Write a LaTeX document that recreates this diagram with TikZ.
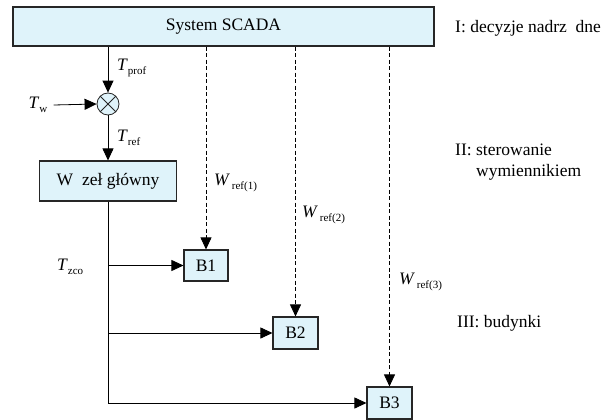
\documentclass[tikz,border=0pt]{standalone}
\usepackage{fontspec}
\setmainfont{Liberation Serif}
\usetikzlibrary{arrows.meta}
\definecolor{jasnoniebieski}{HTML}{DFF3FA}
\newcommand{\zmienna}[2]{\textit{#1}\raisebox{-0.45ex}{\fontsize{11}{12}\selectfont #2}}

\begin{document}
\begin{tikzpicture}[x=1pt,y=-1pt,
  font=\fontsize{17.5}{21}\selectfont,
  blok/.style={draw=black!85,line width=1.1pt,fill=jasnoniebieski,inner sep=0pt},
  strzalka/.style={line width=0.8pt,-{Triangle[length=12pt,width=11pt]}},
  przerywana/.style={strzalka,dash pattern=on 4pt off 2.5pt},
  opis/.style={anchor=west,inner sep=0pt}]
  \useasboundingbox (0,0) rectangle (613,420);
  % bloki
  \node[blok,minimum width=421pt,minimum height=39pt] (scada) at (223.5,26.5) {System SCADA};
  \node[blok,circle,line width=0.8pt,minimum size=22pt,path picture={
    \draw[line width=0.8pt] (path picture bounding box.north west) -- (path picture bounding box.south east);
    \draw[line width=0.8pt] (path picture bounding box.north east) -- (path picture bounding box.south west);
  }] (krzyz) at (108,104) {};
  \node[blok,minimum width=137pt,minimum height=40pt] (wezel) at (108,181) {W\hspace{0.5em}zeł główny};
  \node[blok,minimum width=44pt,minimum height=31pt] (b1) at (206,265.5) {B1};
  \node[blok,minimum width=45pt,minimum height=32pt] (b2) at (295.5,333) {B2};
  \node[blok,minimum width=45pt,minimum height=32pt] (b3) at (389.5,403) {B3};
  % opisy sygnalow
  \node[inner sep=6pt] (tw) at (38,105) {\zmienna{T}{w}};
  \node[opis] (tprof) at (117,68) {\zmienna{T}{prof}};
  \node[opis] (tref) at (117,138) {\zmienna{T}{ref}};
  \node[opis] (tzco) at (57,267) {\zmienna{T}{zco}};
  \node[opis] (wref1) at (214,183) {\zmienna{W}{\,ref(1)}};
  \node[opis] (wref2) at (302,215) {\zmienna{W}{\,ref(2)}};
  \node[opis] (wref3) at (399,282) {\zmienna{W}{\,ref(3)}};
  % poziomy sterowania
  \node[opis] (poziom1) at (455,28) {I: decyzje nadrz\hspace{0.5em}dne};
  \node[opis,align=left] (poziom2) at (455,162) {II: sterowanie\\\hspace*{21pt}wymiennikiem};
  \node[opis] (poziom3) at (457,323) {III: budynki};
  % polaczenia
  \draw[strzalka] (scada.south -| krzyz) -- (krzyz);
  \draw[strzalka] (tw.east) -- (krzyz.west);
  \draw[strzalka] (krzyz) -- (wezel);
  \draw[przerywana] (scada.south -| b1) -- (b1);
  \draw[przerywana] (scada.south -| b2) -- (b2);
  \draw[przerywana] (scada.south -| b3) -- (b3);
  \draw[strzalka] (wezel.south) |- (b3.west);
  \draw[strzalka] (wezel.south |- b1.west) -- (b1.west);
  \draw[strzalka] (wezel.south |- b2.west) -- (b2.west);
\end{tikzpicture}
\end{document}
